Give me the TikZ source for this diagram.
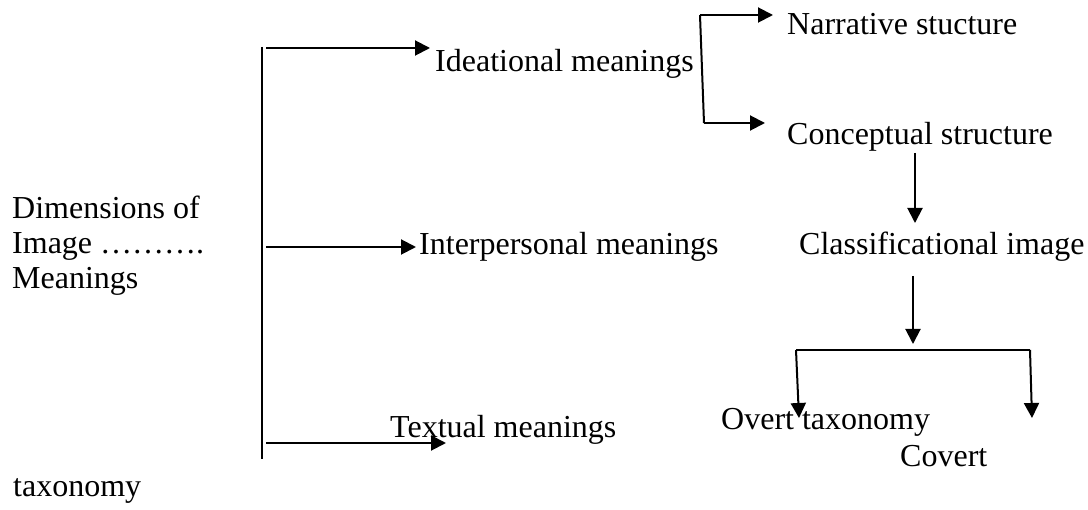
\documentclass[tikz,border=0pt]{standalone}
\usepackage{fontspec}
\setmainfont{Liberation Serif}
\usetikzlibrary{arrows.meta}
\begin{document}
\begin{tikzpicture}[x=1pt,y=-1pt,
  lbl/.style={anchor=base west,inner sep=0pt,font=\fontsize{32}{37}\selectfont},
  ln/.style={line width=2pt},
  arr/.style={line width=2pt,-{Triangle[length=15pt,width=15pt]}}]
\useasboundingbox (0,0) rectangle (1088,510);
% texts
\node[lbl] (dim1) at (12,219) {Dimensions of};
\node[lbl] (dim2) at (12,254) {Image ……….};
\node[lbl] (dim3) at (12,289) {Meanings};
\node[lbl] (idea) at (435,72) {Ideational meanings};
\node[lbl] (inter) at (419,255) {Interpersonal meanings};
\node[lbl] (textual) at (390,438) {Textual meanings};
\node[lbl] (narr) at (787,35) {Narrative stucture};
\node[lbl] (conc) at (787,145) {Conceptual structure};
\node[lbl] (class) at (799,255) {Classificational image};
\node[lbl] (overt) at (721,430) {Overt taxonomy};
\node[lbl] (covert) at (900,467) {Covert};
\node[lbl] (tax) at (13,497) {taxonomy};
% trunk
\coordinate (tt) at (262,47);
\coordinate (tb) at (262,459);
\draw[ln] (tt) -- (tb);
\coordinate (a1s) at (266,48);  \coordinate (a1e) at (430,48);
\coordinate (a2s) at (266,247); \coordinate (a2e) at (416,247);
\coordinate (a3s) at (266,443); \coordinate (a3e) at (446,443);
\draw[arr] (a1s) -- (a1e);
\draw[arr] (a2s) -- (a2e);
\draw[arr] (a3s) -- (a3e);
% ideational bracket
\coordinate (bt) at (700,15);
\coordinate (bb) at (704,123);
\coordinate (bte) at (773,15);
\coordinate (bbe) at (765,123);
\draw[arr] (bt) -- (bte);
\draw[ln] (bt) -- (bb);
\draw[arr] (bb) -- (bbe);
% conceptual -> classificational
\coordinate (c1s) at (915,153); \coordinate (c1e) at (915,223);
\draw[arr] (c1s) -- (c1e);
\coordinate (c2s) at (913,276); \coordinate (c2e) at (913,344);
\draw[arr] (c2s) -- (c2e);
% taxonomy bar
\coordinate (bl) at (796,350); \coordinate (br) at (1030,350);
\coordinate (ble) at (799,418); \coordinate (bre) at (1032,418);
\draw[ln] (bl) -- (br);
\draw[arr] (bl) -- (ble);
\draw[arr] (br) -- (bre);
\end{tikzpicture}
\end{document}
